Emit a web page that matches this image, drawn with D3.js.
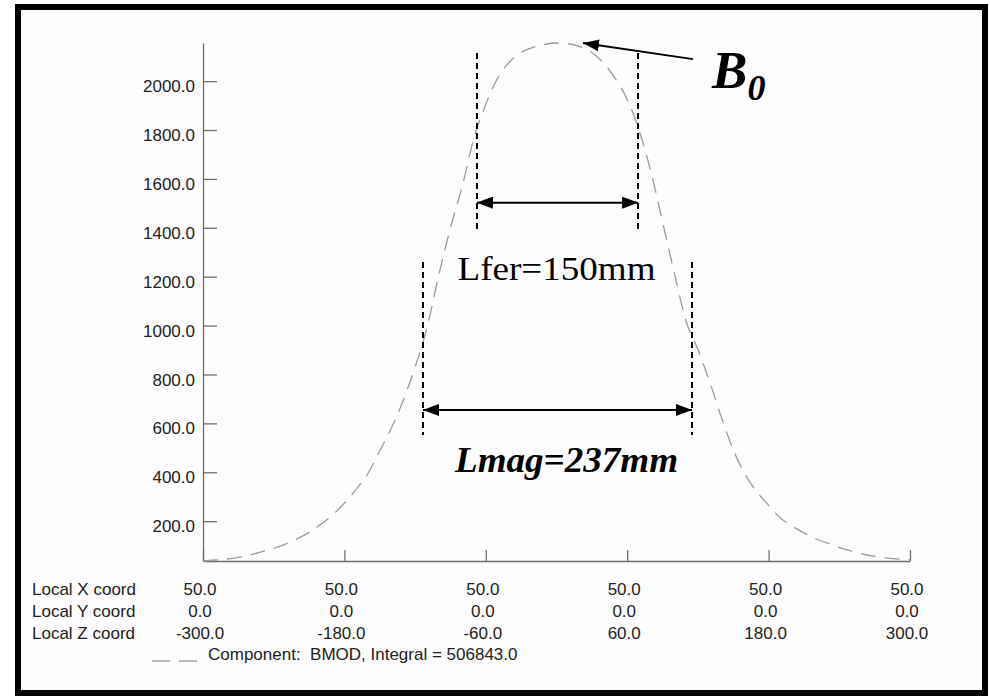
<!DOCTYPE html>
<html>
<head>
<meta charset="utf-8">
<script src="https://cdn.jsdelivr.net/npm/d3@7"></script>
<style>
  html, body { margin: 0; padding: 0; background: #ffffff; }
  svg { display: block; }
  .axis path, .axis line { stroke: #6e6e6e; stroke-width: 1.3; }
  .axis text { font-family: "Liberation Sans", Arial, sans-serif; font-size: 17px; fill: #222; }
  .lbl { font-family: "Liberation Sans", Arial, sans-serif; font-size: 17px; fill: #222; }
</style>
</head>
<body>
<svg id="chart" width="990" height="700"></svg>
<script>
// positions along the magnet axis (Local Z coord, mm)
const zPos = [
  -300, -290, -280, -270, -260, -250, -240, -230, -220, -210,
  -200, -190, -180, -170, -160, -150, -140, -130, -120, -110,
  -100, -90, -80, -70, -60, -50, -40, -30, -20, -10,
  0, 10, 20, 30, 40, 50, 60, 70, 80, 90,
  100, 110, 120, 130, 140, 150, 160, 170, 180, 190,
  200, 210, 220, 230, 240, 250, 260, 270, 280, 290, 300
]

// BMOD
const bmod = [
  37, 41, 45, 52, 62, 75, 89, 106, 128, 154,
  187, 225, 274, 330, 395, 487, 582, 695, 831, 990,
  1205, 1400, 1570, 1768, 1905, 2012, 2078, 2118, 2138, 2150,
  2156, 2153, 2141, 2117, 2073, 2010, 1925, 1800, 1632, 1425,
  1215, 1018, 902, 770, 624, 492, 392, 320, 265, 213,
  180, 152, 128, 110, 92, 78, 65, 56, 50, 45, 42
]

// y axis ticks
const yTicks = [200, 400, 600, 800, 1000, 1200, 1400, 1600, 1800, 2000]

// x axis table
const xTickZ = [-300, -180, -60, 60, 180, 300]
const xTickLocalX = [50, 50, 50, 50, 50, 50]
const xTickLocalY = [0, 0, 0, 0, 0, 0]
const rowNames = ["Local X coord", "Local Y coord", "Local Z coord"]
const legendText = "Component:  BMOD, Integral = 506843.0"

// annotations (z in mm, B values)
const lferZ = [-67.5, 69.2]
const lferB = [2115, 1391, 1503]      // top, bottom, arrow level
const lmagZ = [-113.3, 115]
const lmagB = [1260, 552, 655]
const b0Arrow = [[115.8, 2090], [22.5, 2156]]

/**
 * Plot area
 */
const plot = { left: 203, right: 910, top: 43, bottom: 561 }

const svg = d3.select("#chart")

// frame
svg.append("rect")
  .attr("x", 18).attr("y", 7)
  .attr("width", 967).attr("height", 686)
  .attr("fill", "#fdfdfd")
  .attr("stroke", "#000")
  .attr("stroke-width", 6)

/**
 * Scales
 */
const xScale = d3.scaleLinear()
  .domain([zPos[0], zPos[zPos.length - 1]])
  .range([plot.left, plot.right])

const yScale = d3.scaleLinear()
  .domain(d3.extent(bmod))
  .range([plot.bottom, plot.top])

/**
 * Axes
 */
// plain hyphen for negatives, like the original
const fmt = d3.formatLocale({
  decimal: ".", thousands: ",", grouping: [3], currency: ["", ""], minus: "-"
}).format(".1f")

svg.append("g")
  .attr("class", "axis")
  .attr("transform", "translate(" + plot.left + ",0)")
  .call(d3.axisLeft(yScale).tickValues(yTicks).tickFormat(fmt)
    .tickSizeInner(-14).tickSizeOuter(0).tickPadding(8))
  .call(g => g.selectAll("text").attr("dy", "0.62em").attr("y", 0))

svg.append("g")
  .attr("class", "axis")
  .attr("transform", "translate(0," + plot.bottom + ")")
  .call(d3.axisBottom(xScale).tickValues(xTickZ).tickFormat("")
    .tickSizeInner(-11).tickSizeOuter(0))

/**
 * Coordinate table under the x axis
 */
const rows = [xTickLocalX, xTickLocalY, xTickZ]
const rowBase = [595, 617, 639]

rows.forEach((vals, r) => {
  svg.append("text")
    .attr("class", "lbl")
    .attr("x", 32)
    .attr("y", rowBase[r])
    .text(rowNames[r])

  svg.selectAll(".row" + r)
    .data(vals)
    .enter()
    .append("text")
    .attr("class", "lbl row" + r)
    .attr("x", (d, i) => xScale(xTickZ[i]) - 3)
    .attr("y", rowBase[r])
    .attr("text-anchor", "middle")
    .text(d => fmt(d))
})

// legend
svg.append("line")
  .attr("x1", 152).attr("x2", 197)
  .attr("y1", 661).attr("y2", 661)
  .attr("stroke", "#777")
  .attr("stroke-width", 1.2)
  .attr("stroke-dasharray", "18,9")

svg.append("text")
  .attr("class", "lbl")
  .attr("x", 208)
  .attr("y", 660)
  .attr("xml:space", "preserve")
  .style("white-space", "pre")
  .text(legendText)

/**
 * The curve
 */
const line = d3.line()
  .x((d, i) => xScale(zPos[i]))
  .y(d => yScale(d))
  .curve(d3.curveMonotoneX)

svg.append("path")
  .datum(bmod)
  .attr("d", line)
  .attr("fill", "none")
  .attr("stroke", "#9c9c9c")
  .attr("stroke-width", 1.3)
  .attr("stroke-dasharray", "15,9")

/**
 * Annotations
 */
const defs = svg.append("defs")
defs.append("marker")
  .attr("id", "head")
  .attr("markerUnits", "userSpaceOnUse")
  .attr("viewBox", "0 0 16 12")
  .attr("markerWidth", 16)
  .attr("markerHeight", 12)
  .attr("refX", 16)
  .attr("refY", 6)
  .attr("orient", "auto-start-reverse")
  .append("path")
  .attr("d", "M0,0 L16,6 L0,12 Z")
  .attr("fill", "#000")

function span(zs, bs) {
  zs.forEach(z => {
    svg.append("line")
      .attr("x1", xScale(z)).attr("x2", xScale(z))
      .attr("y1", yScale(bs[0])).attr("y2", yScale(bs[1]))
      .attr("stroke", "#000")
      .attr("stroke-width", 2)
      .attr("stroke-dasharray", "6,4")
  })
  svg.append("line")
    .attr("x1", xScale(zs[0])).attr("x2", xScale(zs[1]))
    .attr("y1", yScale(bs[2])).attr("y2", yScale(bs[2]))
    .attr("stroke", "#000")
    .attr("stroke-width", 2)
    .attr("marker-start", "url(#head)")
    .attr("marker-end", "url(#head)")
}

span(lferZ, lferB)
span(lmagZ, lmagB)

svg.append("text")
  .attr("x", xScale(0))
  .attr("y", yScale(1186))
  .attr("text-anchor", "middle")
  .attr("textLength", 198)
  .attr("lengthAdjust", "spacingAndGlyphs")
  .style("font-family", "'Liberation Serif', 'Times New Roman', serif")
  .style("font-size", "34px")
  .text("Lfer=150mm")

svg.append("text")
  .attr("x", xScale(8.5))
  .attr("y", yScale(401))
  .attr("text-anchor", "middle")
  .attr("textLength", 223)
  .attr("lengthAdjust", "spacingAndGlyphs")
  .style("font-family", "'Liberation Serif', 'Times New Roman', serif")
  .style("font-size", "36px")
  .style("font-weight", "bold")
  .style("font-style", "italic")
  .text("Lmag=237mm")

// B0 pointer
svg.append("line")
  .attr("x1", xScale(b0Arrow[0][0])).attr("y1", yScale(b0Arrow[0][1]))
  .attr("x2", xScale(b0Arrow[1][0])).attr("y2", yScale(b0Arrow[1][1]))
  .attr("stroke", "#000")
  .attr("stroke-width", 2)
  .attr("marker-end", "url(#head)")

const b0 = svg.append("text")
  .attr("x", xScale(132))
  .attr("y", yScale(1972))
  .style("font-family", "'Liberation Serif', 'Times New Roman', serif")
  .style("font-weight", "bold")
  .style("font-style", "italic")
b0.append("tspan").style("font-size", "53px").text("B")
b0.append("tspan").style("font-size", "36px").attr("dy", 12).text("0")
</script>
</body>
</html>
